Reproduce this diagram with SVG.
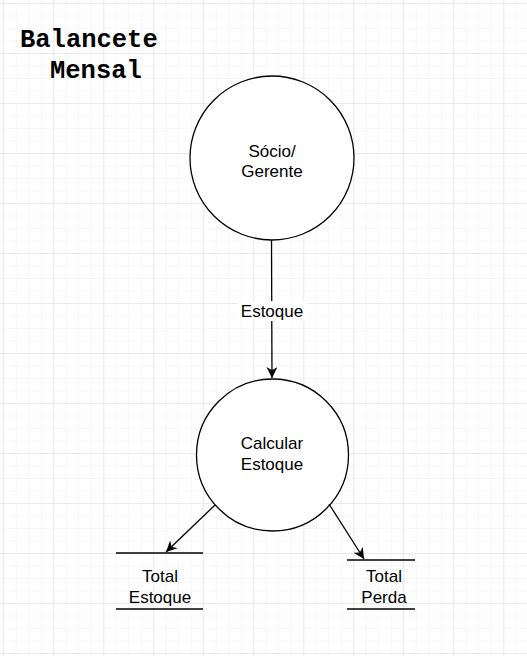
<svg xmlns="http://www.w3.org/2000/svg" width="527" height="656" viewBox="0 0 527 656">
<defs>
<pattern id="minor" x="3.3" y="3" width="12.5" height="12.5" patternUnits="userSpaceOnUse">
<path d="M0 0H12.5M0 0V12.5" fill="none" stroke="#f0f0f0" stroke-width="1"/>
</pattern>
<pattern id="major" x="3.3" y="3" width="50" height="50" patternUnits="userSpaceOnUse">
<path d="M0 0H50M0 0V50" fill="none" stroke="#dcdcdc" stroke-width="1"/>
</pattern>
<marker id="arr" viewBox="0 0 10 10" refX="10" refY="5" markerWidth="11" markerHeight="11" markerUnits="userSpaceOnUse" orient="auto">
<path d="M0 0L10 5L0 10L3 5Z" fill="#000"/>
</marker>
</defs>
<style>
.node{fill:#fff;stroke:#000;stroke-width:1.3}
.t{font-family:"Liberation Sans",Arial,sans-serif;font-size:17px;fill:#000;text-anchor:middle}
.title{font-family:"Liberation Mono","DejaVu Sans Mono",monospace;font-weight:bold;font-size:25.5px;fill:#000}
.edge{stroke:#000;stroke-width:1.3;fill:none}
.store{stroke:#000;stroke-width:1.3}
</style>
<rect width="527" height="656" fill="#fff"/>
<rect width="527" height="656" fill="url(#minor)"/>
<rect width="527" height="656" fill="url(#major)"/>
<g id="title">
<text class="title" x="20" y="47">Balancete</text>
<text class="title" x="50" y="78">Mensal</text>
</g>
<g id="socio">
<circle class="node" cx="272" cy="158" r="82"/>
<text class="t" x="272" y="157">Sócio/</text>
<text class="t" x="272" y="177">Gerente</text>
</g>
<g id="calcular">
<circle class="node" cx="272.5" cy="455" r="76"/>
<text class="t" x="272" y="449">Calcular</text>
<text class="t" x="272" y="470">Estoque</text>
</g>
<g id="totalEstoque">
<line class="store" x1="116" y1="553" x2="203" y2="553"/>
<line class="store" x1="116" y1="609" x2="203" y2="609"/>
<text class="t" x="160" y="582">Total</text>
<text class="t" x="160" y="603">Estoque</text>
</g>
<g id="totalPerda">
<line class="store" x1="347" y1="560" x2="415" y2="560"/>
<line class="store" x1="347" y1="609" x2="415" y2="609"/>
<text class="t" x="384" y="582">Total</text>
<text class="t" x="384" y="603">Perda</text>
</g>
<g id="connectors">
<path class="edge" d="M271.5 240L272 378" marker-end="url(#arr)"/>
<rect x="237" y="301" width="70" height="20" fill="#fff"/>
<text class="t" x="272" y="317">Estoque</text>
<path class="edge" d="M215 505L166 552" marker-end="url(#arr)"/>
<path class="edge" d="M329 504L364 559" marker-end="url(#arr)"/>
</g>
</svg>
